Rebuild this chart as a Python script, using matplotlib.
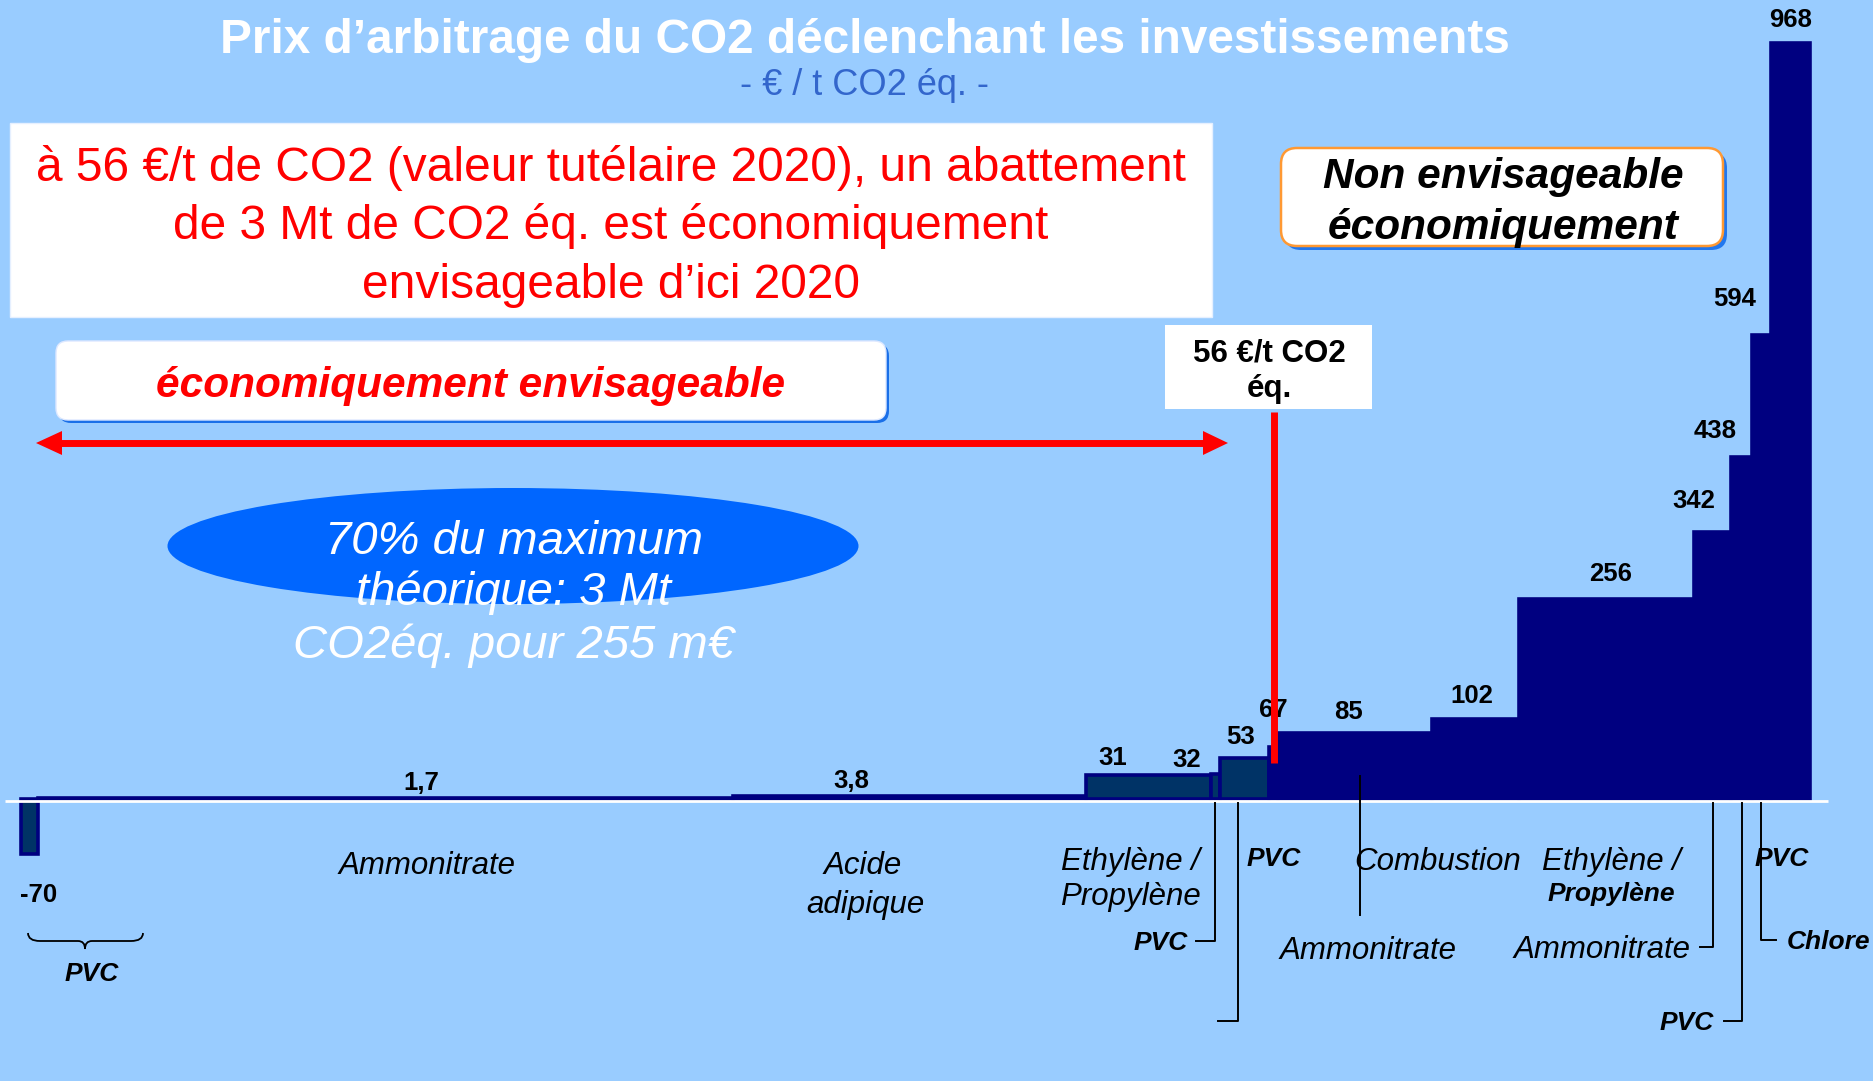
import numpy as np
import matplotlib
matplotlib.use("Agg")
import matplotlib.pyplot as plt
from matplotlib.patches import Rectangle, FancyBboxPatch, Ellipse, Polygon, PathPatch
from matplotlib.path import Path

# ---------------- data ----------------
categories = ["PVC", "Ammonitrate", "Acide adipique", "Ethylène / Propylène", "PVC", "PVC", "PVC",
              "Ammonitrate", "Combustion", "Ethylène / Propylène", "Ammonitrate", "PVC", "Chlore", "PVC"]
abatement_mt = [0.04, 1.67, 0.85, 0.30, 0.02, 0.12, 0.02, 0.37, 0.21, 0.42, 0.09, 0.05, 0.045, 0.095]
cost_eur_t = [-70, 1.7, 3.8, 31, 32, 53, 67, 85, 102, 256, 342, 438, 594, 968]
value_labels = ["-70", "1,7", "3,8", "31", "32", "53", "67", "85", "102", "256", "342", "438", "594", "968"]
carbon_value = 56

title = "Prix d’arbitrage du CO2 déclenchant les investissements"
subtitle = "- € / t CO2 éq. -"
box_lines = ["à 56 €/t de CO2 (valeur tutélaire 2020), un abattement",
             "de 3 Mt de CO2 éq. est économiquement",
             "envisageable d’ici 2020"]
ellipse_lines = ["70% du maximum", "théorique: 3 Mt", "CO2éq. pour 255 m€"]

# ---------------- style ----------------
W, H = 1874, 1081
BG = "#99CCFF"
NAVY = "#000080"
TEAL = "#003366"
RED = "#FF0000"
FONT = "Liberation Sans"
plt.rcParams["font.family"] = [FONT, "DejaVu Sans"]

x_origin_px = 21.5
px_per_mt = 416.0
baseline_px = 799.0
px_per_unit = 0.781

fills = [TEAL, NAVY, NAVY, TEAL, TEAL, TEAL, NAVY, NAVY, NAVY, NAVY, NAVY, NAVY, NAVY, NAVY]
# value label offsets (pixels) relative to bar centre / top
lab_dx = [9, 36, -58, -36, -29, -4, 0, -6, -4, 4, -19, -27, -27, 0]
lab_dy = [-39, 17, 17, 19, 16, 23, 39, 23, 26, 27, 33, 28, 38, 25]

fig = plt.figure(figsize=(W / 100, H / 100), dpi=100)
fig.patch.set_facecolor(BG)

ax = fig.add_axes([0, 0, 1, 1])
ax.set_facecolor(BG)
ax.set_xlim(-x_origin_px / px_per_mt, (W - x_origin_px) / px_per_mt)
ax.set_ylim(-(H - baseline_px) / px_per_unit, baseline_px / px_per_unit)
ax.axis("off")

lefts = np.concatenate([[0.0], np.cumsum(abatement_mt)[:-1]])
widths = np.array(abatement_mt)
ax.bar(lefts, cost_eur_t, width=widths, align="edge", color=fills,
       edgecolor=NAVY, linewidth=2.6, zorder=2)

# white baseline
ax.plot([(5 - x_origin_px) / px_per_mt, (1828 - x_origin_px) / px_per_mt], [-2.8, -2.8],
        color="white", lw=2.0, zorder=3, solid_capstyle="butt")

def cap_center(size_pt, y_px):
    return y_px + 0.358 * size_pt * 100 / 72

# value labels
for i, (l, w, v, s) in enumerate(zip(lefts, widths, cost_eur_t, value_labels)):
    ax.annotate(s, xy=(l + w / 2, v), xytext=(lab_dx[i], lab_dy[i] - 0.358 * 18.5 * 100 / 72),
                textcoords="offset pixels", ha="center", va="baseline",
                fontsize=18.5, fontweight="bold", color="black", zorder=6)

# overlay in pixel coordinates
ov = fig.add_axes([0, 0, 1, 1], zorder=5)
ov.set_xlim(0, W)
ov.set_ylim(H, 0)
ov.axis("off")
ov.patch.set_alpha(0)

def txt(x, y, s, size, **kw):
    kw.setdefault("ha", "center")
    ov.text(x, cap_center(size, y), s, fontsize=size, va="baseline", **kw)

def bar_px(i):
    return x_origin_px + px_per_mt * (lefts[i] + widths[i] / 2)

# titles
txt(865, 36, title, 34.4, fontweight="bold", color="white")
txt(865, 82, subtitle, 26, color="#3366CC")

# big white box
ov.add_patch(Rectangle((10, 123), 1202, 194, facecolor="white", edgecolor="#E6F0FF", lw=1, zorder=1))
for yy, line in zip([164, 222, 281], box_lines):
    txt(611, yy, line, 34.5, color=RED)

# "économiquement envisageable" box
ov.add_patch(FancyBboxPatch((59, 344), 830, 79, boxstyle="round,pad=0,rounding_size=12",
                            facecolor="#1A6FE8", edgecolor="none", zorder=1))
ov.add_patch(FancyBboxPatch((56, 341), 830, 79, boxstyle="round,pad=0,rounding_size=12",
                            facecolor="white", edgecolor="#DDE8FF", lw=1, zorder=2))
txt(471, 382, "économiquement envisageable", 30.5, fontweight="bold", fontstyle="italic", color=RED, zorder=3)

# red double arrow
ov.plot([60, 1208], [443, 443], color=RED, lw=5.0, solid_capstyle="butt", zorder=3)
ov.add_patch(Polygon([[36, 443], [62, 431], [62, 455]], closed=True, facecolor=RED, edgecolor="none", zorder=3))
ov.add_patch(Polygon([[1228, 443], [1203, 431], [1203, 455]], closed=True, facecolor=RED, edgecolor="none", zorder=3))

# ellipse
ov.add_patch(Ellipse((513, 546), 691, 116, facecolor="#0066FF", edgecolor="none", zorder=1))
for yy, line in zip([537, 588, 641], ellipse_lines):
    txt(514, yy, line, 34, fontstyle="italic", color="white", zorder=3)

# "Non envisageable" box
ov.add_patch(FancyBboxPatch((1285, 152), 442, 98, boxstyle="round,pad=0,rounding_size=16",
                            facecolor="#2277EE", edgecolor="none", zorder=1))
ov.add_patch(FancyBboxPatch((1281, 148), 442, 98, boxstyle="round,pad=0,rounding_size=16",
                            facecolor="white", edgecolor="#FF9933", lw=1.8, zorder=2))
txt(1503, 173, "Non envisageable", 30.5, fontweight="bold", fontstyle="italic", color="black", zorder=3)
txt(1503, 224, "économiquement", 30.5, fontweight="bold", fontstyle="italic", color="black", zorder=3)

# 56 €/t box + red line
ov.add_patch(Rectangle((1165, 325), 207, 84, facecolor="white", edgecolor="none", zorder=1))
txt(1269, 350, f"{carbon_value} €/t CO2", 22.5, fontweight="bold", color="black", zorder=3)
txt(1269, 386, "éq.", 22.5, fontweight="bold", color="black", zorder=3)
ov.plot([1274, 1274], [412, 763], color=RED, lw=5.0, solid_capstyle="butt", zorder=4)

# category labels
CAT = 22.5
BCAT = 19
# 0: PVC with brace
brace = Path([(28, 933), (28, 941), (40, 941), (78, 941), (85, 941), (85, 949),
              (85, 941), (92, 941), (131, 941), (143, 941), (143, 933)],
             [Path.MOVETO, Path.CURVE3, Path.CURVE3, Path.LINETO, Path.CURVE3, Path.CURVE3,
              Path.CURVE3, Path.CURVE3, Path.LINETO, Path.CURVE3, Path.CURVE3])
ov.add_patch(PathPatch(brace, facecolor="none", edgecolor="black", lw=1.3))
txt(92, 972, categories[0], BCAT, fontweight="bold", fontstyle="italic")
# 1: Ammonitrate
txt(427, 863, categories[1], CAT, fontstyle="italic")
# 2: Acide adipique
a, b = categories[2].split(" ")
txt(863, 863, a, CAT, fontstyle="italic")
txt(865, 902, b, CAT, fontstyle="italic")
# 3: Ethylène / Propylène
txt(1130, 859, "Ethylène /", CAT, fontstyle="italic")
txt(1130, 894, "Propylène", CAT, fontstyle="italic")
# leaders
LW = 1.4
x4 = bar_px(4)
ov.plot([x4 - 19, x4, x4], [941, 941, 803], color="black", lw=LW)
txt(x4 - 28, 941, categories[4], BCAT, fontweight="bold", fontstyle="italic", ha="right")
x5 = bar_px(5) - 7
ov.plot([x5 - 20, x5, x5], [1021, 1021, 803], color="black", lw=LW)
# 6: PVC
txt(1274, 857, categories[6], BCAT, fontweight="bold", fontstyle="italic")
# 7: Ammonitrate
x7 = bar_px(7) + 5
ov.plot([x7, x7], [776, 915], color="black", lw=LW, zorder=4)
txt(1368, 948, categories[7], CAT, fontstyle="italic")
# 8: Combustion
txt(1438, 859, categories[8], CAT, fontstyle="italic")
# 9: Ethylène / Propylène
txt(1611, 859, "Ethylène /", CAT, fontstyle="italic")
txt(1611, 892, "Propylène", BCAT, fontweight="bold", fontstyle="italic")
# 10: Ammonitrate
x10 = bar_px(10)
ov.plot([x10 - 13, x10, x10], [947, 947, 803], color="black", lw=LW)
txt(x10 - 22, 947, categories[10], CAT, fontstyle="italic", ha="right")
# 11: PVC
x11 = bar_px(11)
ov.plot([x11 - 18, x11, x11], [1021, 1021, 803], color="black", lw=LW)
txt(x11 - 28, 1021, categories[11], BCAT, fontweight="bold", fontstyle="italic", ha="right")
# 12: Chlore
x12 = bar_px(12)
ov.plot([x12 + 15, x12, x12], [940, 940, 803], color="black", lw=LW)
txt(x12 + 25, 940, categories[12], BCAT, fontweight="bold", fontstyle="italic", ha="left")
# 13: PVC
txt(1782, 857, categories[13], BCAT, fontweight="bold", fontstyle="italic")

fig.savefig("out.png", dpi=100, facecolor=BG)
